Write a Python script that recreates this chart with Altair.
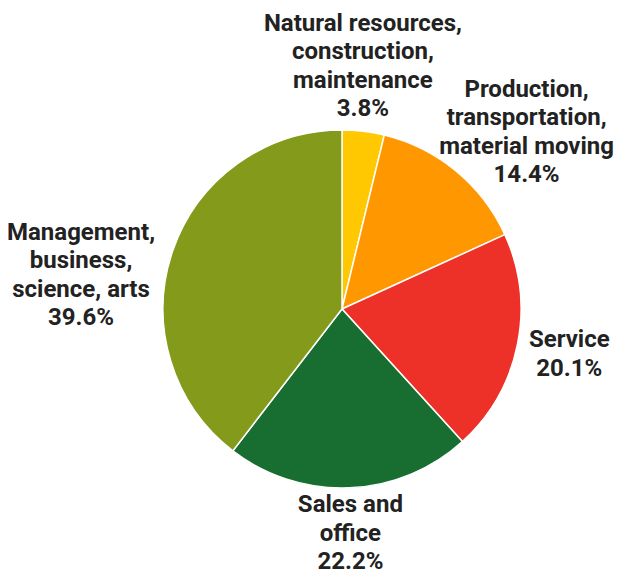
import math
import altair as alt
import pandas as pd

# ---- data ----
categories = [
    "Natural resources,\nconstruction,\nmaintenance",
    "Production,\ntransportation,\nmaterial moving",
    "Service",
    "Sales and\noffice",
    "Management,\nbusiness,\nscience, arts",
]
shares = [3.8, 14.4, 20.1, 22.2, 39.6]
colors = ["#FFC800", "#FF9800", "#EE3128", "#176E30", "#849A1B"]

df = pd.DataFrame({"category": categories, "share": shares, "order": list(range(len(shares)))})
total = float(sum(shares))

# ---- layout (not data) ----
CX, CY, R = 334, 301, 179
LH = 28.5
label_radius = [243, 260, 232, 230, 263]
label_dx = [-8, 19, 0, -1, -12]
label_dy = [-1, 24, -1, -5, 51]

theta_scale = alt.Scale(domain=[0, total], range=[0, 2 * math.pi])

base = (
    alt.Chart(df)
    .transform_window(s1="sum(share)", sort=[alt.SortField("order")], frame=[None, 0])
    .transform_calculate(s0="datum.s1 - datum.share", mid="datum.s1 - datum.share / 2",
                         label="datum.category + '\\n' + format(datum.share, '.1f') + '%'")
)

pie = base.mark_arc(outerRadius=R, stroke="white", strokeWidth=1.5).encode(
    theta=alt.Theta("s0:Q", scale=theta_scale),
    theta2="s1:Q",
    x=alt.value(CX),
    y=alt.value(CY),
    color=alt.Color("category:N", scale=alt.Scale(domain=categories, range=colors), legend=None),
)

layers = [pie]
for i in range(len(categories)):
    n_lines = categories[i].count("\n") + 2
    t = base.transform_filter(alt.datum.order == i).mark_text(
        radius=label_radius[i], dx=label_dx[i], dy=label_dy[i] - (n_lines - 1) * LH / 2,
        font="Roboto", fontWeight="bold", fontSize=24, lineHeight=LH,
        lineBreak="\n", align="center", baseline="middle", color="#222222",
    ).encode(
        theta=alt.Theta("mid:Q", scale=theta_scale),
        x=alt.value(CX),
        y=alt.value(CY),
        text="label:N",
    )
    layers.append(t)

chart = (
    alt.layer(*layers)
    .properties(width=606, height=565, padding=0, autosize="none")
    .configure_view(stroke=None)
)

chart.save("out.html", embed_options={"renderer": "svg", "actions": False})
